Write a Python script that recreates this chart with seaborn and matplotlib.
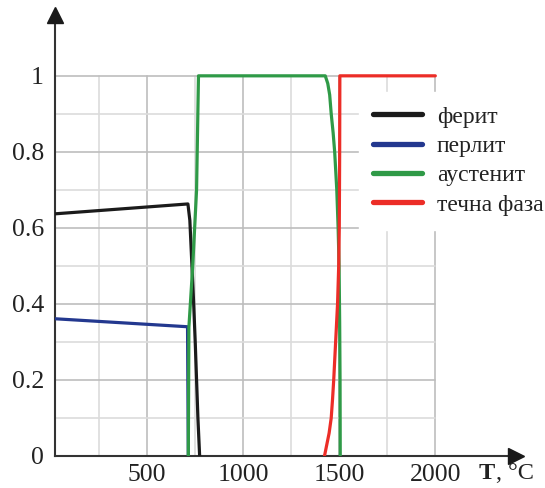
import numpy as np
import pandas as pd
import matplotlib
matplotlib.use("Agg")
import matplotlib.pyplot as plt
import seaborn as sns

# Phase fractions of a steel versus temperature
ferrite_T = [20, 712, 722, 733, 742, 750, 757, 764, 773]
ferrite_f = [0.637, 0.663, 0.62, 0.50, 0.40, 0.30, 0.20, 0.10, 0.0]

pearlite_T = [20, 710, 714]
pearlite_f = [0.361, 0.340, 0.0]

austenite_T = [714, 717, 737, 757, 767, 1427, 1440, 1450, 1458, 1468, 1476,
               1487, 1494, 1499, 1502, 1504, 1505]
austenite_f = [0.0, 0.338, 0.50, 0.70, 1.0, 1.0, 0.98, 0.95, 0.90, 0.85, 0.80,
               0.70, 0.60, 0.50, 0.35, 0.20, 0.0]

liquid_T = [1423, 1435, 1447, 1458, 1465, 1471, 1476, 1481, 1491, 1497, 1500,
            1502, 1503, 2000]
liquid_f = [0.0, 0.03, 0.06, 0.10, 0.15, 0.20, 0.25, 0.30, 0.40, 0.50, 0.60,
            0.80, 1.0, 1.0]

phase_names = ["ферит", "перлит", "аустенит", "течна фаза"]
phase_colors = ["#1b1b1b", "#23388f", "#2f9a47", "#ec2d27"]

x_ticks = [500, 1000, 1500, 2000]
y_ticks = [0, 0.2, 0.4, 0.6, 0.8, 1.0]
y_tick_labels = ["0", "0.2", "0.4", "0.6", "0.8", "1"]
x_grid = [250, 500, 750, 1000, 1250, 1500, 1750, 2000]
y_grid = [0.1, 0.2, 0.3, 0.4, 0.5, 0.6, 0.7, 0.8, 0.9, 1.0]

frames = []
for name, T, f in zip(phase_names,
                      [ferrite_T, pearlite_T, austenite_T, liquid_T],
                      [ferrite_f, pearlite_f, austenite_f, liquid_f]):
    frames.append(pd.DataFrame({"T": T, "f": f, "phase": name}))
df = pd.concat(frames, ignore_index=True)

sns.set_style("white")
plt.rcParams["font.family"] = ["Liberation Serif", "DejaVu Serif"]

fig = plt.figure(figsize=(5.45, 4.88), dpi=100)
ax = fig.add_axes([55 / 545, 32 / 488, 461 / 545, 441 / 488])

x_min, x_max = 20, 2420
y_min, y_max = 0, 1.16

# grid: major every 500 / 0.2, minor lines lighter
for xv in x_grid:
    major = xv % 500 == 0
    ax.plot([xv, xv], [0, 1.0], color="#bdbdbd" if major else "#dcdcdc",
            lw=1.2, zorder=0)
for yv in y_grid:
    major = round(yv * 10) % 2 == 0
    ax.plot([x_min, 2000], [yv, yv], color="#bdbdbd" if major else "#dcdcdc",
            lw=1.2, zorder=0)

sns.lineplot(data=df, x="T", y="f", hue="phase", hue_order=phase_names,
             palette=phase_colors, sort=False, estimator=None,
             lw=2.3, ax=ax, zorder=3)

ax.set_xlim(x_min, x_max)
ax.set_ylim(y_min, y_max)
ax.set_xticks(x_ticks)
ax.set_xticklabels([str(v) for v in x_ticks])
ax.set_yticks(y_ticks)
ax.set_yticklabels(y_tick_labels)
ax.tick_params(axis="both", direction="in", length=4, width=1.2,
               color="#333333", labelsize=18.5, labelcolor="#222222")
ax.tick_params(axis="x", pad=6)
ax.tick_params(axis="y", pad=8)
ax.set_xlabel("")
ax.set_ylabel("")

for side in ["top", "right"]:
    ax.spines[side].set_visible(False)
for side in ["left", "bottom"]:
    ax.spines[side].set_color("#333333")
    ax.spines[side].set_linewidth(1.5)

# arrow heads on the axes
ax.plot(1, 0, marker=">", ms=11, color="#1a1a1a", transform=ax.transAxes,
        clip_on=False, zorder=5)
ax.plot(0, 1, marker="^", ms=11, color="#1a1a1a", transform=ax.transAxes,
        clip_on=False, zorder=5)

# axis label: bold T followed by the unit
t_sym = fig.text(479 / 545, 9 / 488, "T", fontsize=17.5, fontweight="bold",
                 color="#222222", ha="left", va="baseline")
fig.canvas.draw()
bb = t_sym.get_window_extent(renderer=fig.canvas.get_renderer())
fig.text((bb.x1 + 1) / fig.bbox.width, 9 / 488, ", °C", fontsize=17.5,
         color="#222222", ha="left", va="baseline")

handles, labels = ax.get_legend_handles_labels()
for h in handles:
    h.set_linewidth(3.8)
leg = ax.legend(handles, labels, loc="upper left",
                bbox_to_anchor=(359 / 545, 1 - 92 / 488),
                bbox_transform=fig.transFigure, frameon=True,
                fontsize=17, handlelength=2.05, handletextpad=0.65,
                labelspacing=0.33, borderpad=0.6, borderaxespad=0)
leg.get_frame().set_facecolor("white")
leg.get_frame().set_edgecolor("white")
leg.get_frame().set_alpha(1.0)
leg.get_frame().set_boxstyle("square", pad=0)
for t in leg.get_texts():
    t.set_color("#222222")

fig.savefig("out.png", dpi=100)
